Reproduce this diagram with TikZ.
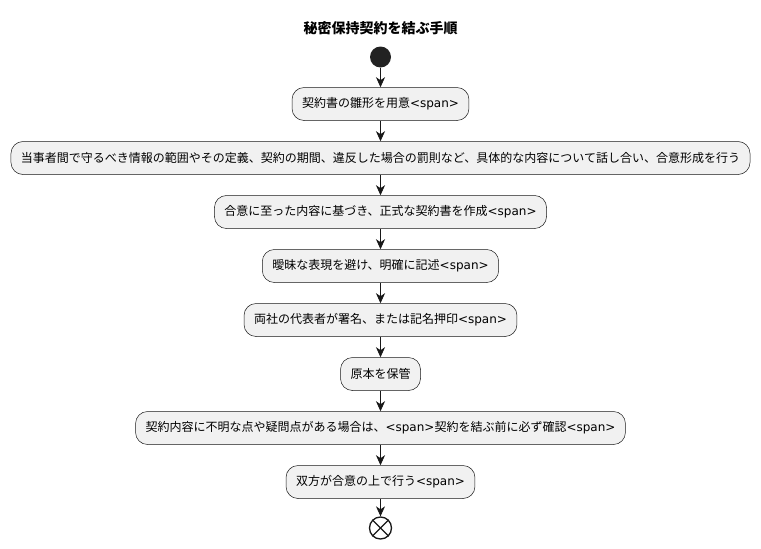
\documentclass[tikz,border=0pt]{standalone}
\usepackage{fontspec}
\setmainfont{Noto Sans CJK JP}
\newfontfamily\latinfont{DejaVu Sans}
\usetikzlibrary{arrows.meta,positioning}
\definecolor{boxfill}{HTML}{F1F1F1}
\definecolor{boxline}{HTML}{181818}
\definecolor{dotfill}{HTML}{222222}
\newcommand{\spantag}{{\latinfont <span>}}

\begin{document}
\begin{tikzpicture}[x=1pt,y=-1pt,
  stepbox/.style={draw=boxline, fill=boxfill, rounded corners=12pt, minimum height=33pt,
    inner xsep=10pt, line width=0.5pt, font=\fontsize{12}{14}\selectfont},
  flow/.style={draw=boxline, line width=0.8pt, -{Stealth[length=10pt,width=9pt,inset=3pt]}}]
\useasboundingbox (0,0) rectangle (761,549);

% Title
\node[font=\bfseries\fontsize{14}{16}\selectfont] (title) at (380.5,28) {秘密保持契約を結ぶ手順};

% Start and end
\node[circle, fill=dotfill, minimum size=21pt, inner sep=0pt] (start) at (380.5,57) {};
\node[circle, draw=boxline, line width=1.3pt, minimum size=22pt, inner sep=0pt] (stop) at (380.5,528) {};
\draw[boxline, line width=1.3pt] (stop.north east) -- (stop.south west);
\draw[boxline, line width=1.3pt] (stop.north west) -- (stop.south east);

% Steps
\foreach \n/\y/\txt in {1/104/契約書の雛形を用意\spantag,
    2/158/当事者間で守るべき情報の範囲やその定義、契約の期間、違反した場合の罰則など、具体的な内容について話し合い、合意形成を行う,
    3/212/合意に至った内容に基づき、正式な契約書を作成\spantag,
    4/266/曖昧な表現を避け、明確に記述\spantag,
    5/320/両社の代表者が署名、または記名押印\spantag,
    6/374/原本を保管,
    7/428/契約内容に不明な点や疑問点がある場合は、\spantag 契約を結ぶ前に必ず確認\spantag,
    8/482/双方が合意の上で行う\spantag} {
    \node[stepbox] (s\n) at (380.5,\y) {\txt};
}

% Connectors
\draw[flow] (start) -- (s1);
\foreach \a/\b in {1/2,2/3,3/4,4/5,5/6,6/7,7/8} {
    \draw[flow] (s\a) -- (s\b);
}
\draw[flow] (s8) -- (stop);
\end{tikzpicture}
\end{document}
